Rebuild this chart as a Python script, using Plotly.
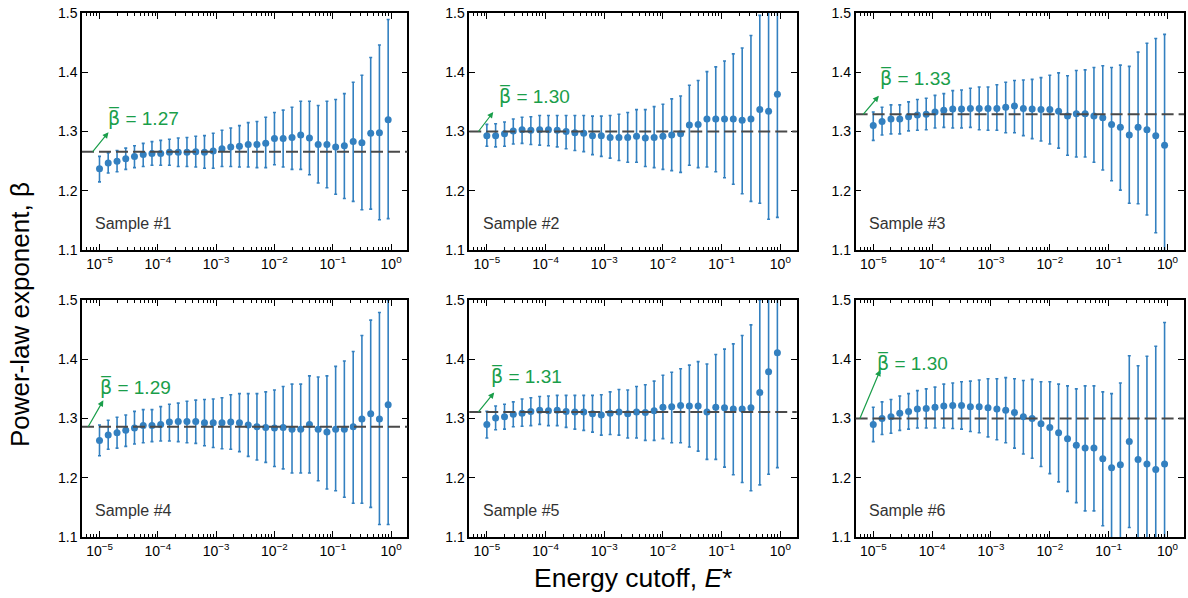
import plotly.graph_objects as go
from plotly.subplots import make_subplots

# ---------------- data ----------------
energy_cutoff = [1.00e-5, 1.41e-5, 2.00e-5, 2.82e-5, 3.98e-5, 5.62e-5, 7.94e-5,
                 1.12e-4, 1.58e-4, 2.24e-4, 3.16e-4, 4.47e-4, 6.31e-4, 8.91e-4,
                 1.26e-3, 1.78e-3, 2.51e-3, 3.55e-3, 5.01e-3, 7.08e-3,
                 1.00e-2, 1.41e-2, 2.00e-2, 2.82e-2, 3.98e-2, 5.62e-2, 7.94e-2,
                 1.12e-1, 1.58e-1, 2.24e-1, 3.16e-1, 4.47e-1, 6.31e-1, 8.91e-1]

x_tick_vals = [1e-5, 1e-4, 1e-3, 1e-2, 1e-1, 1e0]
x_tick_text = ["10<sup>\u22125</sup>", "10<sup>\u22124</sup>", "10<sup>\u22123</sup>",
               "10<sup>\u22122</sup>", "10<sup>\u22121</sup>", "10<sup>0</sup>"]
y_tick_vals = [1.1, 1.2, 1.3, 1.4, 1.5]

sample_names = ["Sample #1", "Sample #2", "Sample #3", "Sample #4", "Sample #5", "Sample #6"]
beta_mean = [1.266, 1.300, 1.329, 1.286, 1.311, 1.300]

s1_beta = [1.237, 1.247, 1.250, 1.254, 1.258, 1.261, 1.263, 1.263, 1.265, 1.265, 1.265, 1.266, 1.265, 1.267,
           1.271, 1.274, 1.275, 1.278, 1.278, 1.280, 1.288, 1.288, 1.290, 1.294, 1.289, 1.278, 1.278, 1.274,
           1.276, 1.283, 1.281, 1.297, 1.298, 1.320]
s1_upper = [1.258, 1.264, 1.268, 1.272, 1.276, 1.280, 1.283, 1.285, 1.287, 1.289, 1.290, 1.292, 1.293, 1.297,
            1.302, 1.306, 1.310, 1.315, 1.317, 1.324, 1.332, 1.336, 1.341, 1.351, 1.351, 1.344, 1.351, 1.354,
            1.364, 1.383, 1.395, 1.425, 1.446, 1.489]
s1_lower = [1.215, 1.230, 1.232, 1.236, 1.239, 1.241, 1.243, 1.243, 1.243, 1.241, 1.241, 1.240, 1.238, 1.238,
            1.241, 1.241, 1.240, 1.240, 1.239, 1.239, 1.244, 1.240, 1.236, 1.236, 1.227, 1.213, 1.205, 1.194,
            1.187, 1.182, 1.168, 1.169, 1.151, 1.153]

s2_beta = [1.293, 1.293, 1.296, 1.301, 1.303, 1.302, 1.303, 1.303, 1.302, 1.300, 1.298, 1.297, 1.293, 1.293,
           1.290, 1.290, 1.290, 1.292, 1.289, 1.290, 1.292, 1.294, 1.296, 1.311, 1.312, 1.321, 1.321, 1.321,
           1.321, 1.319, 1.321, 1.337, 1.334, 1.363]
s2_upper = [1.312, 1.313, 1.316, 1.321, 1.324, 1.325, 1.327, 1.327, 1.327, 1.327, 1.327, 1.327, 1.326, 1.326,
            1.327, 1.329, 1.332, 1.337, 1.337, 1.342, 1.346, 1.355, 1.360, 1.378, 1.386, 1.401, 1.409, 1.419,
            1.431, 1.441, 1.462, 1.496, 1.516, 1.571]
s2_lower = [1.275, 1.274, 1.275, 1.279, 1.280, 1.278, 1.277, 1.276, 1.274, 1.271, 1.268, 1.266, 1.261, 1.258,
            1.255, 1.251, 1.248, 1.248, 1.241, 1.239, 1.236, 1.234, 1.231, 1.243, 1.239, 1.240, 1.232, 1.222,
            1.211, 1.195, 1.182, 1.179, 1.152, 1.155]

s3_beta = [1.310, 1.317, 1.321, 1.321, 1.325, 1.328, 1.329, 1.333, 1.336, 1.338, 1.338, 1.339, 1.339, 1.339,
           1.339, 1.341, 1.343, 1.339, 1.338, 1.337, 1.337, 1.334, 1.326, 1.330, 1.330, 1.326, 1.323, 1.312,
           1.307, 1.294, 1.307, 1.303, 1.293, 1.277]
s3_upper = [1.333, 1.341, 1.345, 1.345, 1.350, 1.354, 1.356, 1.361, 1.364, 1.369, 1.370, 1.373, 1.375, 1.375,
            1.379, 1.383, 1.386, 1.387, 1.388, 1.391, 1.395, 1.399, 1.394, 1.403, 1.404, 1.408, 1.411, 1.408,
            1.412, 1.410, 1.434, 1.449, 1.457, 1.464]
s3_lower = [1.285, 1.294, 1.296, 1.296, 1.301, 1.302, 1.303, 1.306, 1.307, 1.306, 1.306, 1.307, 1.303, 1.302,
            1.302, 1.298, 1.298, 1.293, 1.288, 1.284, 1.279, 1.272, 1.260, 1.257, 1.257, 1.248, 1.235, 1.217,
            1.201, 1.179, 1.178, 1.159, 1.129, 1.090]

s4_beta = [1.263, 1.272, 1.276, 1.280, 1.284, 1.288, 1.288, 1.290, 1.294, 1.295, 1.295, 1.295, 1.293, 1.293,
           1.293, 1.294, 1.293, 1.289, 1.286, 1.285, 1.284, 1.285, 1.282, 1.282, 1.290, 1.282, 1.277, 1.282,
           1.282, 1.286, 1.299, 1.308, 1.299, 1.323]
s4_upper = [1.289, 1.297, 1.302, 1.306, 1.312, 1.315, 1.315, 1.320, 1.324, 1.326, 1.329, 1.331, 1.332, 1.333,
            1.335, 1.340, 1.342, 1.342, 1.342, 1.345, 1.348, 1.354, 1.358, 1.358, 1.372, 1.370, 1.372, 1.388,
            1.397, 1.413, 1.440, 1.466, 1.479, 1.500]
s4_lower = [1.237, 1.248, 1.250, 1.253, 1.257, 1.259, 1.261, 1.262, 1.262, 1.261, 1.259, 1.258, 1.254, 1.251,
            1.249, 1.248, 1.244, 1.236, 1.230, 1.226, 1.219, 1.215, 1.208, 1.208, 1.208, 1.195, 1.181, 1.178,
            1.167, 1.157, 1.157, 1.150, 1.121, 1.121]

s5_beta = [1.290, 1.301, 1.303, 1.307, 1.309, 1.312, 1.314, 1.313, 1.314, 1.312, 1.311, 1.311, 1.308, 1.306,
           1.309, 1.311, 1.308, 1.311, 1.310, 1.313, 1.319, 1.320, 1.322, 1.321, 1.321, 1.311, 1.319, 1.318,
           1.316, 1.316, 1.318, 1.344, 1.379, 1.411]
s5_upper = [1.312, 1.321, 1.324, 1.328, 1.333, 1.335, 1.337, 1.338, 1.339, 1.339, 1.339, 1.339, 1.339, 1.340,
            1.345, 1.349, 1.348, 1.354, 1.357, 1.363, 1.373, 1.378, 1.384, 1.390, 1.396, 1.392, 1.408, 1.417,
            1.426, 1.440, 1.458, 1.500, 1.552, 1.605]
s5_lower = [1.267, 1.281, 1.282, 1.286, 1.287, 1.288, 1.290, 1.288, 1.288, 1.285, 1.282, 1.280, 1.277, 1.272,
            1.273, 1.272, 1.267, 1.267, 1.263, 1.263, 1.266, 1.259, 1.259, 1.252, 1.245, 1.231, 1.231, 1.218,
            1.205, 1.192, 1.178, 1.188, 1.206, 1.217]

s6_beta = [1.290, 1.300, 1.303, 1.309, 1.312, 1.316, 1.317, 1.319, 1.321, 1.322, 1.322, 1.320, 1.320, 1.318,
           1.316, 1.314, 1.310, 1.303, 1.300, 1.291, 1.285, 1.276, 1.266, 1.255, 1.250, 1.250, 1.232, 1.217,
           1.222, 1.261, 1.231, 1.223, 1.214, 1.223]
s6_upper = [1.319, 1.328, 1.332, 1.338, 1.342, 1.347, 1.350, 1.353, 1.358, 1.360, 1.362, 1.363, 1.365, 1.367,
            1.367, 1.369, 1.367, 1.364, 1.366, 1.362, 1.362, 1.358, 1.355, 1.350, 1.355, 1.355, 1.345, 1.342,
            1.360, 1.406, 1.389, 1.405, 1.422, 1.462]
s6_lower = [1.261, 1.273, 1.275, 1.280, 1.282, 1.284, 1.284, 1.284, 1.284, 1.283, 1.282, 1.278, 1.276, 1.269,
            1.264, 1.259, 1.250, 1.240, 1.233, 1.219, 1.207, 1.193, 1.177, 1.158, 1.144, 1.144, 1.119, 1.092,
            1.084, 1.116, 1.073, 1.041, 1.006, 0.984]

betas = [s1_beta, s2_beta, s3_beta, s4_beta, s5_beta, s6_beta]
uppers = [s1_upper, s2_upper, s3_upper, s4_upper, s5_upper, s6_upper]
lowers = [s1_lower, s2_lower, s3_lower, s4_lower, s5_lower, s6_lower]

# ---------------- style / layout ----------------
BLUE = "#3380c0"
GREEN = "#1a9e4a"
FONT = "Liberation Sans, Arial, sans-serif"

x_domains = [[0.0, 0.2953], [0.3514, 0.6486], [0.7020, 1.0]]
y_domains = [[0.5477, 1.0], [0.0, 0.4523]]

# per-panel label placement (domain x fraction, pixel y shift above mean line)
label_x = [0.074, 0.086, 0.068, 0.050, 0.061, 0.059]
label_shift = [34, 36, 37, 40, 36, 56]
arrow_x = [0.033, 0.028, 0.023, 0.019, 0.028, 0.013]
arrow_dx = [17, 16, 17, 16, 17, 21]
arrow_dy = [-21, -21, -20, -28, -21, -50]

fig = make_subplots(rows=2, cols=3)

for k in range(6):
    r, c = k // 3 + 1, k % 3 + 1
    b, up, lo = betas[k], uppers[k], lowers[k]
    fig.add_trace(go.Scatter(
        x=energy_cutoff, y=b, mode="markers",
        marker=dict(color=BLUE, size=7),
        error_y=dict(type="data", symmetric=False,
                     array=[u - v for u, v in zip(up, b)],
                     arrayminus=[v - l for v, l in zip(b, lo)],
                     color=BLUE, thickness=1.6, width=1.5),
        showlegend=False, cliponaxis=True,
    ), row=r, col=c)
    fig.add_hline(y=beta_mean[k], row=r, col=c,
                  line=dict(color="#4a4a4a", width=2, dash="12px,5px"))

    ax_id = "" if k == 0 else str(k + 1)
    xref = f"x{ax_id} domain"
    yref = f"y{ax_id}"
    # text label (beta with overline)
    fig.add_annotation(
        x=label_x[k], y=beta_mean[k], xref=xref, yref=yref,
        text=(f"<span style=\"font-family:'DejaVu Sans'\">\u03b2\u0305</span>"
              f" = {beta_mean[k]:.2f}"),
        showarrow=False,
        xanchor="left", yanchor="middle", yshift=label_shift[k],
        font=dict(family=FONT, size=19, color=GREEN),
    )
    # arrow from the mean line to the label
    fig.add_annotation(
        x=arrow_x[k], y=beta_mean[k], xref=xref, yref=yref,
        text="", showarrow=True, ax=arrow_dx[k], ay=arrow_dy[k],
        arrowside="start", startarrowhead=2, startarrowsize=1,
        arrowwidth=1.2, arrowcolor=GREEN, standoff=0, startstandoff=0,
    )
    # sample label
    fig.add_annotation(
        x=0.035, y=0.11, xref=xref, yref=f"y{ax_id} domain",
        text=sample_names[k], showarrow=False, xanchor="left", yanchor="middle",
        font=dict(family=FONT, size=16, color="#333333"),
    )

for k in range(6):
    r, c = k // 3, k % 3
    ax_id = "" if k == 0 else str(k + 1)
    fig.layout[f"xaxis{ax_id}"].update(
        domain=x_domains[c], type="log", range=[-5.3, 0.28],
        tickmode="array", tickvals=x_tick_vals, ticktext=x_tick_text,
        ticks="inside", ticklen=6, tickwidth=1.2, tickcolor="black",
        showline=True, linecolor="black", linewidth=1.5, mirror="allticks",
        showgrid=False, zeroline=False,
        minor=dict(ticks="inside", ticklen=3, tickwidth=1, tickcolor="black",
                   dtick="D1", showgrid=False),
        tickfont=dict(family=FONT, size=14, color="black"),
    )
    fig.layout[f"yaxis{ax_id}"].update(
        domain=y_domains[r], range=[1.1, 1.5],
        tickmode="array", tickvals=y_tick_vals, ticktext=[f"{v:.1f}" for v in y_tick_vals],
        ticks="inside", ticklen=6, tickwidth=1.2, tickcolor="black",
        showline=True, linecolor="black", linewidth=1.5, mirror="allticks",
        showgrid=False, zeroline=False,
        tickfont=dict(family=FONT, size=14, color="black"),
    )

fig.add_annotation(
    x=-0.056, y=0.424, xref="paper", yref="paper",
    text="Power-law exponent, \u03b2", textangle=-90, showarrow=False,
    xanchor="center", yanchor="middle",
    font=dict(family=FONT, size=26, color="black"),
)
fig.add_annotation(
    x=0.5, y=-0.078, xref="paper", yref="paper",
    text="Energy cutoff, <i>E</i>*", showarrow=False,
    xanchor="center", yanchor="middle",
    font=dict(family=FONT, size=26.5, color="black"),
)

fig.update_layout(
    width=1188, height=598,
    margin=dict(l=82, r=2, t=13, b=61),
    plot_bgcolor="white", paper_bgcolor="white",
    font=dict(family=FONT),
)

fig.write_html("out.html", config={"displayModeBar": False},
               post_script="document.body.style.margin='0';document.body.style.overflow='hidden';")
